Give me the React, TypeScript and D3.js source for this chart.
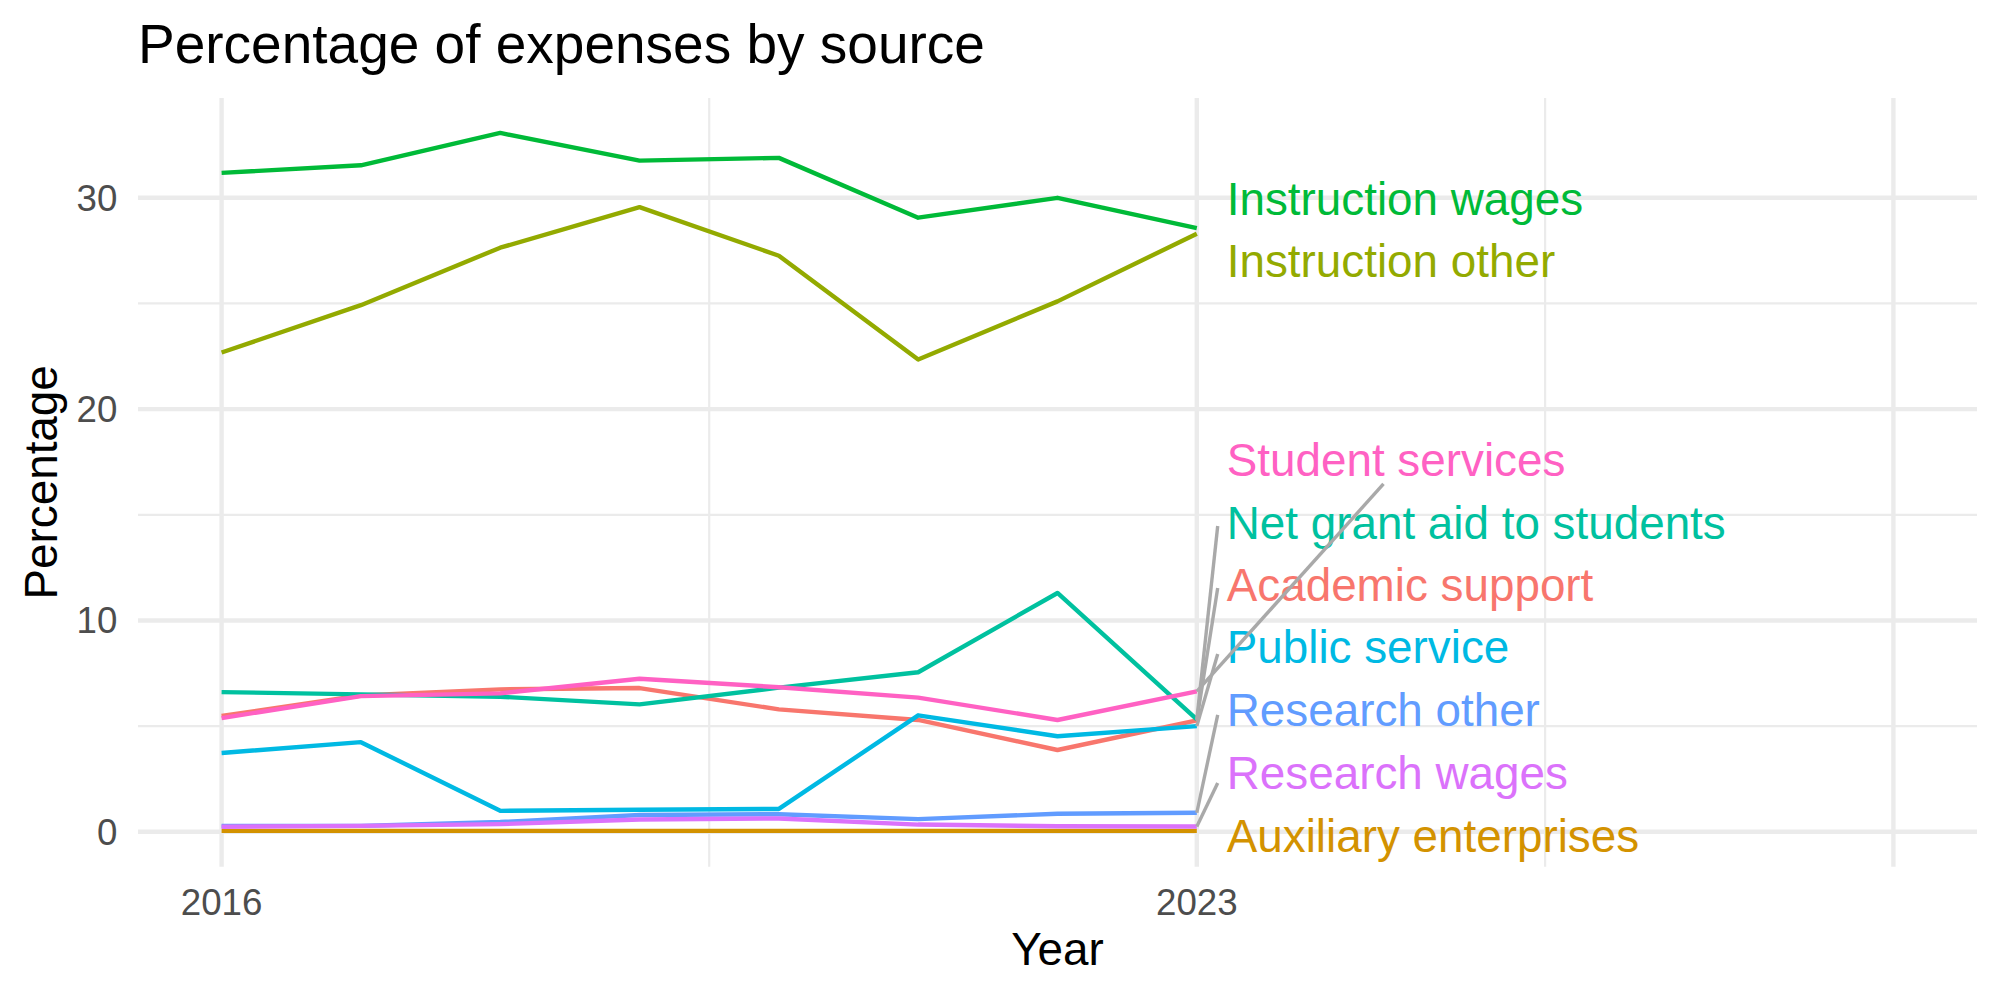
import React, { useEffect } from 'react';
import * as d3 from 'd3';

// Share of expenses by source, 2016-2023 (percent)
const years = [2016, 2017, 2018, 2019, 2020, 2021, 2022, 2023];

const sources = [
  'Academic support',
  'Auxiliary enterprises',
  'Instruction other',
  'Instruction wages',
  'Net grant aid to students',
  'Public service',
  'Research other',
  'Research wages',
  'Student services',
];

const academicSupport = [5.48, 6.45, 6.74, 6.8, 5.79, 5.29, 3.87, 5.27];
const auxiliaryEnterprises = [0.04, 0.04, 0.04, 0.04, 0.04, 0.04, 0.04, 0.04];
const instructionOther = [22.68, 24.92, 27.64, 29.56, 27.26, 22.35, 25.1, 28.3];
const instructionWages = [31.18, 31.54, 33.07, 31.76, 31.89, 29.06, 30.0, 28.57];
const netGrantAid = [6.61, 6.5, 6.39, 6.03, 6.82, 7.55, 11.3, 5.32];
const publicService = [3.73, 4.24, 0.99, 1.04, 1.08, 5.51, 4.52, 5.0];
const researchOther = [0.28, 0.28, 0.46, 0.79, 0.83, 0.6, 0.85, 0.9];
const researchWages = [0.24, 0.28, 0.36, 0.58, 0.63, 0.34, 0.26, 0.25];
const studentServices = [5.38, 6.42, 6.55, 7.24, 6.84, 6.35, 5.29, 6.64];

const seriesValues = [
  academicSupport,
  auxiliaryEnterprises,
  instructionOther,
  instructionWages,
  netGrantAid,
  publicService,
  researchOther,
  researchWages,
  studentServices,
];

// repelled label positions (y, in percent) and where their leader lines end
const labelX = 2023.215;
const labelY = [11.69, -0.18, 27.02, 29.94, 14.61, 8.74, 5.76, 2.78, 17.59];
const segmentEnd: ([number, number] | null)[] = [
  [2023.15, 11.54],
  null,
  null,
  null,
  [2023.15, 14.47],
  [2023.15, 8.41],
  [2023.15, 5.53],
  [2023.15, 2.31],
  [2024.34, 16.46],
];

const xBreaks = [2016, 2023, 2028];
const xBreakLabels = ['2016', '2023', ''];
const xMinorBreaks = [2019.5, 2025.5];
const xLimits = [2016, 2028];
const yBreaks = [0, 10, 20, 30];
const yMinorBreaks = [5, 15, 25];

const W = 2000;
const H = 1000;
const panel = { left: 138, right: 1977, top: 98, bottom: 866.7 };
const FONT = '"Liberation Sans", Arial, Helvetica, sans-serif';

// ggplot2 default hue palette for 9 groups
const colour = d3
  .scaleOrdinal<string, string>()
  .domain(sources)
  .range(['#F8766D', '#D39200', '#93AA00', '#00BA38', '#00C19F', '#00B9E3', '#619CFF', '#DB72FB', '#FF61C3']);

function expand([lo, hi]: number[], mult = 0.05) {
  const d = (hi - lo) * mult;
  return [lo - d, hi + d];
}

export default function App() {
  useEffect(() => {
    document.body.style.margin = '0';
    document.body.style.overflow = 'hidden';
  }, []);

  const allValues = seriesValues.flat();
  const x = d3.scaleLinear().domain(expand(xLimits)).range([panel.left, panel.right]);
  const y = d3
    .scaleLinear()
    .domain(expand([Math.min(0, d3.min(allValues)!), d3.max(allValues)!]))
    .range([panel.bottom, panel.top]);

  const line = d3
    .line<number>()
    .x((_, i) => x(years[i]))
    .y((d) => y(d));

  return (
    <svg width={W} height={H} style={{ display: 'block', background: '#fff' }} fontFamily={FONT}>
      {/* grid */}
      <g fill="none" stroke="#EBEBEB">
        {yMinorBreaks.map((v) => (
          <line key={'ym' + v} x1={panel.left} x2={panel.right} y1={y(v)} y2={y(v)} strokeWidth={2.2} />
        ))}
        {xMinorBreaks.map((v) => (
          <line key={'xm' + v} y1={panel.top} y2={panel.bottom} x1={x(v)} x2={x(v)} strokeWidth={2.2} />
        ))}
        {yBreaks.map((v) => (
          <line key={'y' + v} x1={panel.left} x2={panel.right} y1={y(v)} y2={y(v)} strokeWidth={4.4} />
        ))}
        {xBreaks.map((v) => (
          <line key={'x' + v} y1={panel.top} y2={panel.bottom} x1={x(v)} x2={x(v)} strokeWidth={4.4} />
        ))}
      </g>

      {/* series */}
      <g fill="none" strokeWidth={4.4} strokeLinejoin="round">
        {seriesValues.map((vals, i) => (
          <path key={sources[i]} d={line(vals)!} stroke={colour(sources[i])} />
        ))}
      </g>

      {/* end labels with leader lines */}
      <g fontSize={45.8}>
        {sources.map((name, i) => {
          const last = seriesValues[i][seriesValues[i].length - 1];
          const seg = segmentEnd[i];
          return (
            <g key={name}>
              {seg && (
                <line
                  x1={x(years[years.length - 1])}
                  y1={y(last)}
                  x2={x(seg[0])}
                  y2={y(seg[1])}
                  stroke="#A9A9A9"
                  strokeWidth={3.4}
                />
              )}
              <text x={x(labelX)} y={y(labelY[i])} dy="0.35em" fill={colour(name)}>
                {name}
              </text>
            </g>
          );
        })}
      </g>

      {/* axes text */}
      <g fontSize={36.7} fill="#4D4D4D">
        {yBreaks.map((v) => (
          <text key={'yl' + v} x={117.3} y={y(v)} dy="0.35em" textAnchor="end">
            {v}
          </text>
        ))}
        {xBreaks.map((v, i) => (
          <text key={'xl' + v} x={x(v)} y={915} textAnchor="middle">
            {xBreakLabels[i]}
          </text>
        ))}
      </g>
      <text x={(panel.left + panel.right) / 2} y={965} textAnchor="middle" fontSize={45.8} fill="#000">
        Year
      </text>
      <text
        transform={`translate(57,${(panel.top + panel.bottom) / 2}) rotate(-90)`}
        textAnchor="middle"
        fontSize={45.8}
        fill="#000"
      >
        Percentage
      </text>
      <text x={panel.left} y={63} fontSize={55} fill="#000">
        Percentage of expenses by source
      </text>
    </svg>
  );
}
